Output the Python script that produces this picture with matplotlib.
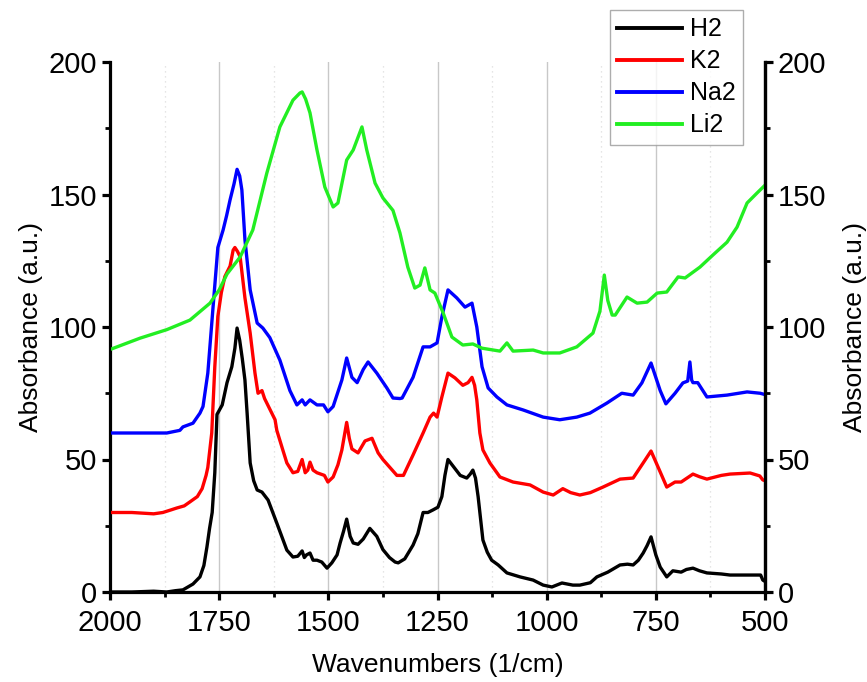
import matplotlib
matplotlib.use("Agg")
import matplotlib.pyplot as plt
from matplotlib.ticker import MultipleLocator

plt.rcParams['font.family'] = ['Liberation Sans', 'DejaVu Sans']

# (wavenumber, absorbance)
h2 = [(2000, 0), (1950, 0), (1900, 0.3), (1870, 0), (1850, 0.5), (1833, 0.8), (1810, 3), (1794, 5.7),
      (1785, 10), (1778, 17), (1772, 24), (1766, 30), (1760, 45), (1755, 67), (1743, 70.6), (1732, 79),
      (1721, 85), (1714, 92), (1709, 99.6), (1703, 95), (1697, 88), (1691, 80), (1686, 67.5), (1679, 48.7),
      (1671, 42), (1663, 38.5), (1652, 37.7), (1638, 34.7), (1618, 26), (1595, 15.8), (1581, 13.2),
      (1570, 13.5), (1560, 15.5), (1555, 13), (1550, 14), (1542, 14.7), (1535, 12), (1526, 12), (1515, 11.3),
      (1503, 9), (1492, 11), (1480, 14), (1473, 18.5), (1465, 23), (1458, 27.5), (1450, 21), (1443, 18.5),
      (1432, 18), (1420, 20), (1405, 24), (1389, 21), (1375, 16), (1360, 13), (1347, 11.3), (1340, 11),
      (1325, 12.5), (1306, 17.7), (1295, 22), (1283, 30), (1272, 30), (1260, 31), (1249, 32), (1240, 36),
      (1233, 44), (1226, 50), (1212, 47), (1198, 44), (1183, 43), (1175, 44.5), (1169, 46), (1163, 43),
      (1157, 36), (1146, 19.6), (1136, 15), (1126, 12), (1111, 10.2), (1091, 7.2), (1061, 5.7), (1031, 4.5),
      (1008, 2.6), (988, 1.9), (965, 3.4), (940, 2.6), (924, 2.6), (900, 3.5), (885, 5.7), (860, 7.5),
      (832, 10.2), (815, 10.5), (802, 10.2), (790, 12), (779, 14.7), (770, 17.5), (761, 20.8), (750, 14),
      (740, 9.4), (725, 5.7), (711, 8), (692, 7.5), (680, 8.5), (665, 9), (650, 8), (633, 7.2), (600, 6.8),
      (580, 6.4), (550, 6.4), (523, 6.4), (510, 6.4), (505, 4.5), (500, 4)]

k2 = [(2000, 30), (1950, 30), (1900, 29.5), (1879, 30), (1860, 31), (1847, 31.7), (1830, 32.5), (1817, 34),
      (1800, 36), (1789, 39), (1780, 44), (1776, 47), (1767, 60), (1760, 85), (1753, 104), (1745, 113),
      (1737, 119), (1725, 123), (1718, 129), (1714, 130), (1708, 128.5), (1702, 126.5), (1691, 111),
      (1679, 97.7), (1668, 82.6), (1661, 75), (1652, 76), (1646, 73), (1640, 71), (1622, 65), (1618, 61),
      (1605, 54), (1595, 48.7), (1581, 45), (1570, 45.5), (1560, 50), (1553, 45), (1547, 46), (1542, 49),
      (1535, 46), (1526, 45), (1509, 44), (1501, 41.5), (1489, 43.4), (1478, 48), (1469, 53.6), (1458, 64),
      (1452, 58), (1446, 54), (1432, 52.5), (1416, 57), (1400, 58), (1386, 52.5), (1375, 50), (1359, 47),
      (1343, 44), (1328, 44), (1306, 51.7), (1283, 60), (1267, 66), (1259, 67.5), (1251, 66), (1240, 73.6),
      (1226, 82.6), (1210, 80.8), (1192, 78), (1180, 79), (1171, 81), (1165, 78), (1160, 72.5), (1153, 60),
      (1146, 53.6), (1130, 48.7), (1107, 43.4), (1077, 41.5), (1038, 40.4), (1008, 37.7), (985, 36.6),
      (963, 39), (945, 37.5), (924, 36.6), (900, 37.5), (871, 39.6), (832, 42.6), (802, 43), (779, 48.7),
      (761, 53.2), (740, 45.3), (725, 39.6), (706, 41.5), (692, 41.5), (665, 44.5), (650, 43.5), (633, 42.6),
      (600, 44), (580, 44.5), (534, 44.9), (512, 43.8), (505, 42.3), (500, 42)]

na2 = [(2000, 60), (1950, 60), (1908, 60), (1870, 60), (1840, 61), (1833, 62.3), (1810, 63.7), (1794, 67.5),
       (1787, 70), (1776, 82.6), (1764, 107.5), (1753, 130), (1741, 136.6), (1733, 142), (1725, 148),
       (1716, 154), (1709, 159.5), (1703, 157), (1698, 151.7), (1691, 133), (1679, 114), (1663, 101.5),
       (1650, 99.6), (1634, 96), (1611, 87.5), (1588, 76), (1572, 70.6), (1560, 72.5), (1553, 70.6),
       (1542, 72.5), (1526, 70.6), (1511, 70.6), (1501, 68), (1489, 70), (1469, 80), (1458, 88.3), (1446, 81),
       (1434, 79), (1420, 84), (1409, 86.8), (1389, 82.6), (1366, 77), (1352, 73.2), (1336, 73), (1331, 73.2),
       (1306, 81), (1283, 92.5), (1267, 92.5), (1251, 94), (1240, 103.8), (1226, 114), (1206, 111),
       (1187, 107.5), (1171, 109), (1160, 100), (1148, 85), (1134, 77), (1114, 73.6), (1091, 70.6),
       (1054, 68.7), (1008, 66), (970, 65), (931, 66), (901, 67.5), (862, 71.3), (828, 75), (802, 74.3),
       (782, 78.9), (761, 86.4), (740, 76), (727, 71), (706, 75), (688, 78.9), (677, 79.6), (672, 86.8),
       (668, 80), (665, 79), (654, 79), (633, 73.6), (587, 74.3), (541, 75.5), (511, 75), (500, 74.5)]

li2 = [(2000, 91.5), (1931, 95.8), (1870, 99), (1817, 102.6), (1771, 109), (1750, 114), (1732, 120),
       (1702, 126.4), (1673, 136.6), (1641, 158), (1611, 175.5), (1581, 185.6), (1565, 188.3), (1560, 188.7),
       (1552, 186), (1542, 180.8), (1526, 166.8), (1508, 152.8), (1489, 145.3), (1478, 146.8), (1458, 163),
       (1443, 166.8), (1423, 175.5), (1412, 166.8), (1393, 154.3), (1375, 148.7), (1352, 144), (1336, 135.5),
       (1318, 122.6), (1302, 114.7), (1290, 115.8), (1279, 122.3), (1267, 114), (1256, 112.8), (1237, 105.3),
       (1217, 96.2), (1192, 93.2), (1169, 93.6), (1148, 92), (1107, 90.9), (1091, 94), (1077, 90.9),
       (1031, 91.3), (1008, 90.2), (970, 90.2), (931, 92.5), (894, 97.7), (878, 106), (868, 119.6), (860, 110),
       (850, 104.5), (843, 104.5), (816, 111.3), (793, 109), (770, 109.4), (747, 112.8), (725, 113.2),
       (699, 118.9), (683, 118.5), (649, 122.6), (619, 127.2), (587, 132), (564, 137.7), (541, 146.8),
       (518, 150.6), (500, 153.5)]

series = [("H2", h2, "black"), ("K2", k2, "#ff0000"), ("Na2", na2, "#0000ff"), ("Li2", li2, "#22ee22")]

fig = plt.figure(figsize=(8.67, 6.82), dpi=100)
ax = fig.add_axes([110 / 867, 90 / 682, 655 / 867, 530 / 682])

for name, pts, col in series:
    wn, ab = zip(*pts)
    ax.plot(wn, ab, color=col, lw=2.4, label=name, zorder=3, solid_joinstyle='round')

ax.set_xlim(2000, 500)
ax.set_ylim(0, 200)
ax.xaxis.set_major_locator(MultipleLocator(250))
ax.xaxis.set_minor_locator(MultipleLocator(125))
ax.yaxis.set_major_locator(MultipleLocator(50))
ax.yaxis.set_minor_locator(MultipleLocator(25))

# vertical grid only
ax.grid(axis='x', which='major', color='#c8c8c8', lw=1.0, zorder=0)
ax.grid(axis='x', which='minor', color='#dddddd', lw=0.9, ls=(0, (1, 3)), zorder=0)

for s in ['left', 'right', 'bottom']:
    ax.spines[s].set_linewidth(2.3)
ax.spines['top'].set_visible(False)

ax.tick_params(which='major', direction='out', length=6, width=2.3, labelsize=21, pad=3)
ax.tick_params(axis='x', which='major', pad=6)
ax.tick_params(which='minor', direction='out', length=3.5, width=2.0)

ax2 = ax.twinx()
ax2.set_ylim(0, 200)
ax2.yaxis.set_major_locator(MultipleLocator(50))
ax2.yaxis.set_minor_locator(MultipleLocator(25))
ax2.tick_params(which='major', direction='out', length=6, width=2.3, labelsize=21, pad=3)
ax2.tick_params(which='minor', direction='out', length=3.5, width=2.0)
ax2.spines['top'].set_visible(False)
ax2.spines['right'].set_linewidth(2.3)

ax.set_xlabel("Wavenumbers (1/cm)", fontsize=19, labelpad=12)
ax.set_ylabel("Absorbance (a.u.)", fontsize=19, labelpad=4)
ax2.set_ylabel("Absorbance (a.u.)", fontsize=19, labelpad=12)

leg = ax.legend(loc='upper right', bbox_to_anchor=(743 / 867, 1 - 10 / 682), bbox_transform=fig.transFigure,
                fontsize=18, frameon=True, fancybox=False, handlelength=2.6, handletextpad=0.3,
                labelspacing=0.32, borderpad=0.3, borderaxespad=0)
leg.get_frame().set_edgecolor('#999999')
leg.get_frame().set_linewidth(1.0)
leg.set_zorder(5)
for line in leg.get_lines():
    line.set_linewidth(2.8)

fig.savefig("out.png", dpi=100)
